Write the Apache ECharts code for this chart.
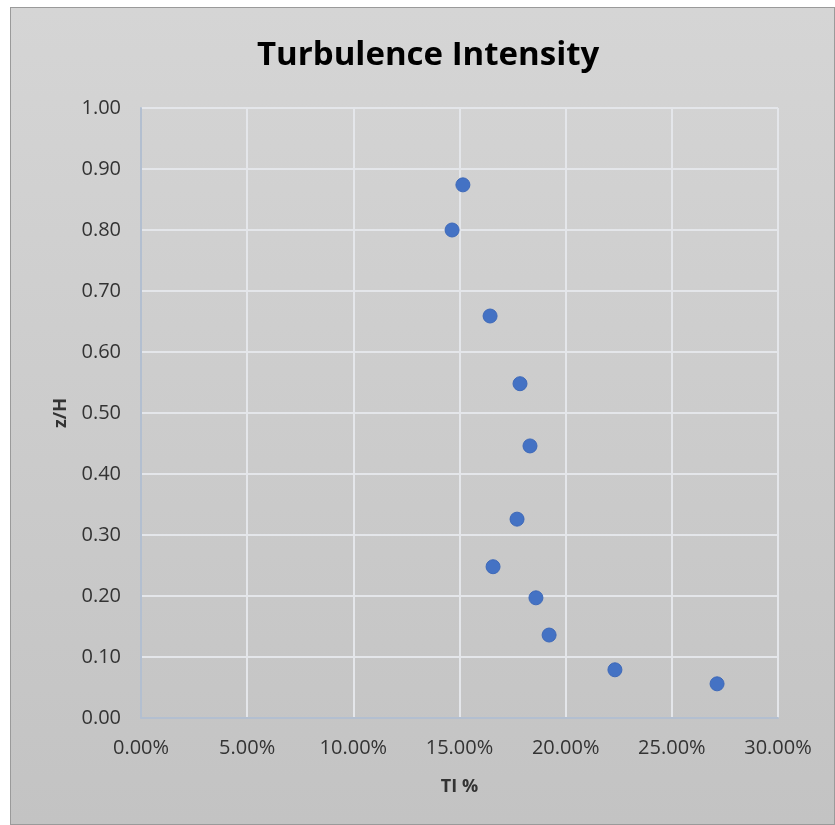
<!DOCTYPE html>
<html>
<head>
<meta charset="utf-8">
<script src="https://cdn.jsdelivr.net/npm/echarts@6/dist/echarts.min.js"></script>
<style>
  html, body { margin: 0; padding: 0; background: #ffffff; }
  #frame {
    position: absolute; left: 10px; top: 7px; width: 823px; height: 816px;
    border: 1px solid #9a9a9a;
    background: linear-gradient(to bottom, #d5d5d5, #c3c3c3);
  }
  #chart { position: absolute; left: 0; top: 0; width: 835px; height: 825px; }
</style>
</head>
<body>
<div id="frame"></div>
<div id="chart"></div>
<script>
// TI (%) vs z/H
var tiValues = [15.16, 14.65, 16.44, 17.85, 18.32, 17.71, 16.58, 18.60, 19.22, 22.32, 27.13];
var zhValues = [0.874, 0.800, 0.659, 0.548, 0.446, 0.326, 0.248, 0.197, 0.136, 0.079, 0.056];

var points = [];
for (var i = 0; i < tiValues.length; i++) {
  points.push([tiValues[i], zhValues[i]]);
}

var chart = echarts.init(document.getElementById('chart'));

var labelFont = {
  color: '#333333',
  fontSize: 20,
  fontFamily: 'Open Sans'
};

var nameFont = {
  fontFamily: 'Open Sans',
  fontWeight: 'bold',
  fontSize: 18,
  color: '#333333'
};

chart.setOption({
  backgroundColor: 'transparent',
  title: {
    text: 'Turbulence Intensity',
    left: 252,
    top: 34,
    textStyle: {
      fontFamily: 'Open Sans',
      fontWeight: 'bold',
      fontSize: 33,
      color: '#000000'
    }
  },
  grid: {
    left: 141,
    right: 57,
    top: 108,
    bottom: 107
  },
  xAxis: {
    type: 'value',
    min: 0,
    max: 30,
    interval: 5,
    name: 'TI %',
    nameLocation: 'middle',
    nameGap: 60,
    nameTextStyle: nameFont,
    axisLine: { lineStyle: { color: '#b3bfd0', width: 2 } },
    axisTick: { show: false },
    axisLabel: Object.assign({
      margin: 20,
      formatter: function (v) { return v.toFixed(2) + '%'; }
    }, labelFont),
    splitLine: { lineStyle: { color: '#e4e6ea', width: 2 } }
  },
  yAxis: {
    type: 'value',
    min: 0,
    max: 1,
    interval: 0.1,
    name: 'z/H',
    nameLocation: 'middle',
    nameGap: 71,
    nameTextStyle: nameFont,
    axisLine: { show: true, lineStyle: { color: '#b3bfd0', width: 2 } },
    axisTick: { show: false },
    axisLabel: Object.assign({
      margin: 20,
      formatter: function (v) { return v.toFixed(2); }
    }, labelFont),
    splitLine: { lineStyle: { color: '#e4e6ea', width: 2 } }
  },
  series: [{
    type: 'scatter',
    data: points,
    symbol: 'circle',
    symbolSize: 14,
    itemStyle: {
      color: '#4472c4',
      borderColor: '#3d68b8',
      borderWidth: 1,
      opacity: 1
    }
  }]
});
</script>
</body>
</html>
